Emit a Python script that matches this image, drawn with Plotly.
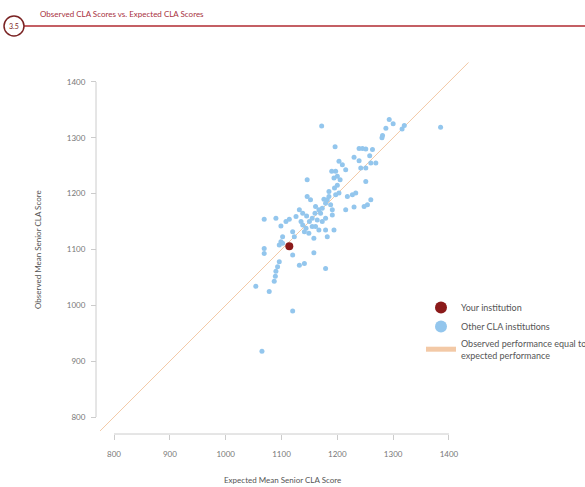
import plotly.graph_objects as go

# ---- data ----
your_x = [1114]
your_y = [1106]

others_x = [1172, 1293, 1287, 1281, 1316, 1320, 1385,
            1196, 1239, 1245, 1251, 1263,
            1239, 1260, 1269, 1242, 1251,
            1203, 1209, 1215, 1197, 1200, 1194,
            1146, 1251,
            1185, 1197, 1203, 1218, 1227, 1233,
            1260, 1254, 1248, 1230, 1215,
            1146, 1152,
            1161, 1167, 1173, 1179, 1182, 1188, 1191,
            1132, 1138, 1126,
            1155, 1164, 1173, 1179, 1191,
            1069, 1090,
            1114, 1108, 1099,
            1138, 1144, 1141, 1149, 1155, 1161, 1167, 1179, 1194,
            1158, 1182,
            1120, 1123,
            1102, 1099, 1096, 1102,
            1069, 1069,
            1158, 1120,
            1096, 1093, 1090, 1089, 1087,
            1132, 1141, 1179,
            1054, 1078, 1120, 1065,
            1150, 1170, 1185, 1176, 1160, 1145, 1135, 1200, 1195, 1205, 1190, 1280, 1300, 1230, 1258]
others_y = [1321, 1333, 1317, 1304, 1316, 1322, 1319,
            1284, 1281, 1281, 1280, 1279,
            1259, 1255, 1255, 1246, 1246,
            1258, 1252, 1243, 1240, 1231, 1228,
            1225, 1222,
            1204, 1198, 1201, 1195, 1198, 1201,
            1189, 1180, 1177, 1176, 1171,
            1195, 1189,
            1177, 1171, 1174, 1183, 1189, 1180, 1171,
            1171, 1165, 1159,
            1156, 1153, 1150, 1156, 1162,
            1154, 1156,
            1154, 1150, 1142,
            1144, 1138, 1132, 1129, 1141, 1141, 1135, 1135, 1135,
            1120, 1123,
            1132, 1123,
            1123, 1114, 1108, 1111,
            1102, 1093,
            1094, 1090,
            1078, 1069, 1061, 1052, 1043,
            1072, 1075, 1066,
            1034, 1025, 990, 918,
            1150, 1165, 1195, 1190, 1165, 1160, 1150, 1215, 1210, 1225, 1240, 1300, 1325, 1265, 1268]

equal_line = [775, 1435]
tick_vals = [800, 900, 1000, 1100, 1200, 1300, 1400]

W, H = 585, 487
FONT = "Lato"
px_x = lambda p: p / W
px_y = lambda p: 1 - p / H

fig = go.Figure()
fig.add_trace(go.Scatter(
    x=equal_line, y=equal_line, mode="lines",
    line=dict(color="#f3c9a6", width=1),
    name="Observed performance equal to<br>expected performance", legendrank=3))
fig.add_trace(go.Scatter(
    x=others_x, y=others_y, mode="markers",
    marker=dict(color="#93c6ed", size=5),
    name="Other CLA institutions", legendrank=2))
fig.add_trace(go.Scatter(
    x=your_x, y=your_y, mode="markers",
    marker=dict(color="#8b1a1a", size=8),
    name="Your institution", legendrank=1))

axis_common = dict(
    tickvals=tick_vals, ticks="outside", ticklen=5, tickcolor="#cccccc",
    showgrid=False, zeroline=False, showline=False,
    tickfont=dict(family=FONT, size=8, color="#777777"),
)


def note(text, x, y, size=8, color="#555555", xanchor="center", angle=0):
    return dict(text=text, x=px_x(x), y=px_y(y), xref="paper", yref="paper",
                xanchor=xanchor, yanchor="middle", showarrow=False, textangle=angle,
                font=dict(family=FONT, size=size, color=color))


fig.update_layout(
    width=W, height=H,
    margin=dict(l=0, r=0, t=0, b=0, autoexpand=False),
    paper_bgcolor="white", plot_bgcolor="white",
    font=dict(family=FONT, color="#555555"),
    xaxis=dict(domain=[px_x(98), px_x(480)], range=[771.3, 1455.6],
               anchor="free", position=px_y(434), ticklabelstandoff=7,
               **axis_common),
    yaxis=dict(domain=[px_y(434), px_y(30)], range=[769.6, 1493.1],
               anchor="free", position=px_x(96), ticklabelstandoff=4,
               **axis_common),
    showlegend=True,
    legend=dict(x=px_x(421), y=px_y(293), xanchor="left", yanchor="top",
                bgcolor="rgba(0,0,0,0)", itemsizing="constant",
                font=dict(family=FONT, size=9, color="#555555")),
    shapes=[
        # detached axis lines
        dict(type="line", xref="x", yref="paper", x0=800, x1=1400,
             y0=px_y(434), y1=px_y(434), line=dict(color="#cccccc", width=1)),
        dict(type="line", xref="paper", yref="y", x0=px_x(96), x1=px_x(96),
             y0=800, y1=1400, line=dict(color="#cccccc", width=1)),
        # header rule and badge
        dict(type="line", xref="paper", yref="paper", x0=px_x(24), x1=1,
             y0=px_y(26), y1=px_y(26), line=dict(color="#b02a30", width=1.5),
             layer="below"),
        dict(type="circle", xref="paper", yref="paper", x0=px_x(4), x1=px_x(24),
             y0=px_y(36), y1=px_y(16), line=dict(color="#7a2323", width=1.5),
             fillcolor="rgba(0,0,0,0)", layer="below"),
    ],
    annotations=[
        note("3.5", 14, 26, size=7, color="#7a2323"),
        note("Observed CLA Scores vs. Expected CLA Scores", 38, 14,
             color="#a83040", xanchor="left"),
        note("Expected Mean Senior CLA Score", 282, 480),
        note("Observed Mean Senior CLA Score", 38, 250, angle=-90),
    ],
)

fig.write_html("out.html", config={"displayModeBar": False},
               post_script="document.body.style.margin='0';")
